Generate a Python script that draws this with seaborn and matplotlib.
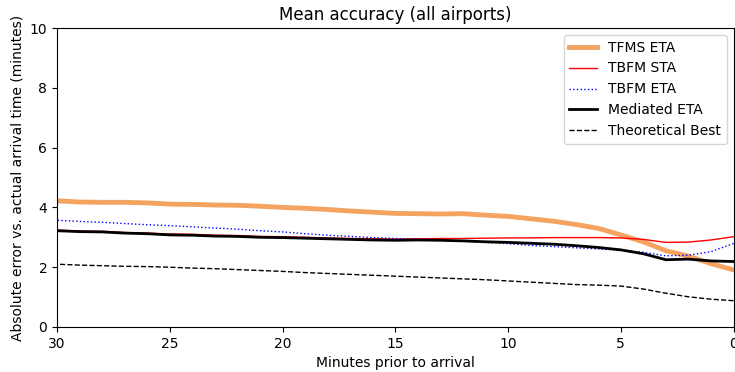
import matplotlib
matplotlib.use("Agg")
import matplotlib.pyplot as plt
import seaborn as sns
import pandas as pd

minutes = list(range(30, -1, -1))

tfms_eta = [4.22, 4.18, 4.17, 4.17, 4.15, 4.11, 4.10, 4.08, 4.07, 4.04, 4.00,
            3.97, 3.93, 3.88, 3.84, 3.80, 3.79, 3.78, 3.79, 3.74, 3.70,
            3.62, 3.54, 3.43, 3.30, 3.08, 2.85, 2.55, 2.37, 2.12, 1.91]
tbfm_sta = [3.24, 3.21, 3.20, 3.16, 3.14, 3.11, 3.10, 3.07, 3.06, 3.03, 3.02,
            3.00, 2.98, 2.96, 2.95, 2.94, 2.95, 2.96, 2.96, 2.97, 2.98,
            2.98, 2.99, 2.99, 2.99, 2.98, 2.93, 2.83, 2.84, 2.91, 3.02]
tbfm_eta = [3.57, 3.53, 3.50, 3.46, 3.42, 3.39, 3.35, 3.31, 3.27, 3.22, 3.18,
            3.12, 3.07, 3.03, 2.99, 2.96, 2.93, 2.90, 2.87, 2.83, 2.79,
            2.73, 2.69, 2.65, 2.61, 2.57, 2.50, 2.38, 2.40, 2.52, 2.79]
mediated_eta = [3.22, 3.19, 3.18, 3.14, 3.12, 3.08, 3.07, 3.04, 3.03, 3.00, 2.99,
                2.97, 2.95, 2.93, 2.91, 2.90, 2.91, 2.90, 2.88, 2.85, 2.83,
                2.80, 2.77, 2.72, 2.66, 2.58, 2.45, 2.25, 2.27, 2.21, 2.19]
theoretical_best = [2.10, 2.07, 2.05, 2.03, 2.02, 2.00, 1.97, 1.95, 1.92, 1.89, 1.86,
                    1.82, 1.79, 1.76, 1.73, 1.70, 1.67, 1.64, 1.61, 1.58, 1.54,
                    1.50, 1.46, 1.42, 1.40, 1.37, 1.27, 1.13, 1.01, 0.93, 0.88]

series = [
    ("TFMS ETA", tfms_eta, dict(color="#f4a460", lw=3.5, ls="-")),
    ("TBFM STA", tbfm_sta, dict(color="red", lw=1.0, ls="-")),
    ("TBFM ETA", tbfm_eta, dict(color="blue", lw=1.0, ls=":")),
    ("Mediated ETA", mediated_eta, dict(color="black", lw=2.0, ls="-")),
    ("Theoretical Best", theoretical_best, dict(color="black", lw=1.0, ls="--")),
]

fig = plt.figure(figsize=(7.35, 3.72), dpi=100)
ax = fig.add_axes([57 / 735, 1 - 327 / 372, (733.5 - 57) / 735, (327 - 28) / 372])

for name, vals, st in series:
    df = pd.DataFrame({"minutes": minutes, "value": vals})
    sns.lineplot(data=df, x="minutes", y="value", ax=ax, label=name,
                 color=st["color"], linewidth=st["lw"], linestyle=st["ls"])

ax.set_xlim(30, 0)
ax.set_ylim(0, 10)
ax.set_xticks([30, 25, 20, 15, 10, 5, 0])
ax.set_yticks([0, 2, 4, 6, 8, 10])
ax.set_xlabel("Minutes prior to arrival")
ax.set_ylabel("Absolute error vs. actual arrival time (minutes)")
ax.set_title("Mean accuracy (all airports)")
ax.legend(loc="upper right")

fig.savefig("out.png", dpi=100)
